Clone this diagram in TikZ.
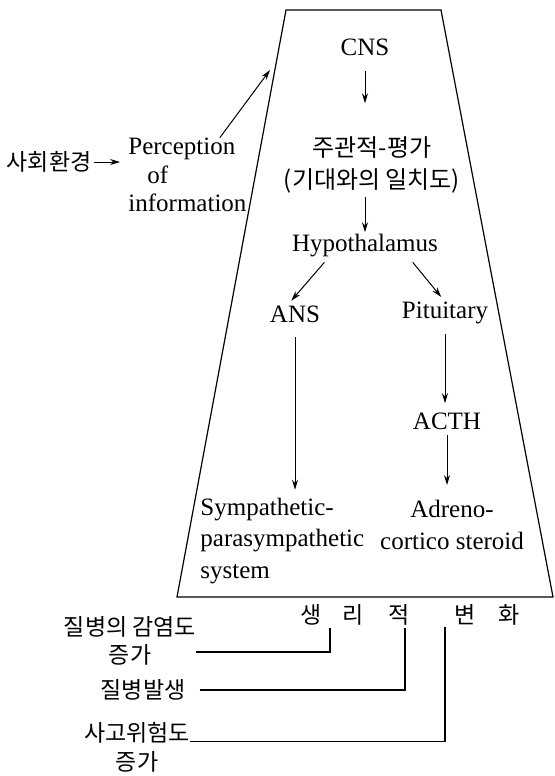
\documentclass[tikz,border=0pt]{standalone}
\usepackage{fontspec}
\setmainfont{Liberation Serif}
\newfontfamily\kr{Noto Sans CJK KR}
\usetikzlibrary{arrows.meta,calc}

\begin{document}
\begin{tikzpicture}[x=0.5pt, y=-0.5pt,
    lbl/.style={inner sep=0pt, font=\fontsize{12.5}{15}\selectfont},
    krl/.style={inner sep=0pt, font=\kr\fontsize{11.5}{14}\selectfont},
    arr/.style={-{Stealth[length=5pt,width=3pt]}, line width=0.5pt},
    link/.style={line width=0.6pt}
  ]
    \useasboundingbox (0,0) rectangle (554,776);

    % body frame
    \coordinate (tl) at (286,10);
    \coordinate (tr) at (441,10);
    \coordinate (br) at (553,597);
    \coordinate (bl) at (177,597);
    \draw[line width=0.6pt] (tl) -- (tr) -- (br) -- (bl) -- cycle;

    \node[lbl] (cns) at (365,47) {CNS};
    \node[krl, align=center, font=\kr\fontsize{12}{16}\selectfont] (evalq) at (372,165) {주관적-평가\\(기대와의 일치도)};
    \node[lbl] (hypo) at (365,246) {Hypothalamus};
    \node[lbl] (ans) at (295,314) {ANS};
    \node[lbl] (pit) at (445,313) {Pituitary};
    \node[lbl] (acth) at (447,421) {ACTH};
    \node[lbl, align=left, anchor=west, font=\fontsize{12.5}{15.75}\selectfont] (symp) at (200,541) {Sympathetic-\\parasympathetic\\system};
    \node[lbl, align=center, font=\fontsize{12.5}{15.75}\selectfont] (adreno) at (452,525) {Adreno-\\cortico steroid};

    \node[lbl, align=left, anchor=west, font=\fontsize{12.5}{14.25}\selectfont] (percep) at (128,175) {Perception\\\hspace*{9.5pt}of\\information};
    \node[krl] (env) at (49,162) {사회환경};
    \coordinate (pin) at (270,70);

    \draw[arr, shorten <=7.5pt, shorten >=16.5pt] (cns.south) -- (cns.south |- evalq.north);
    \draw[arr, shorten <=1.5pt, shorten >=1pt] (hypo.north |- evalq.south) -- (hypo.north);
    \draw[arr, shorten <=3pt, shorten >=3pt] ($(hypo.south)!.5!(hypo.south west)$) -- ($(ans.north)!.3!(ans.north west)$);
    \draw[arr, shorten <=3pt, shorten >=3pt] ($(hypo.south)!.6!(hypo.south east)$) -- (pit.north);
    \draw[arr, shorten <=7pt, shorten >=4pt] (ans.south) -- (ans.south |- symp.north);
    \draw[arr, shorten <=5pt, shorten >=4.5pt] (pit.south) -- (pit.south |- acth.north);
    \draw[arr, shorten <=2.5pt, shorten >=7.5pt] (acth.south) -- (acth.south |- adreno.north);
    \draw[arr] ([xshift=-13.5pt]percep.north east) -- (pin);
    \draw[arr, shorten <=1pt, shorten >=4pt] (env.east) -- (env.east -| percep.west);

    % outcomes
    \node[krl] (change) at (410,615) {생\hspace{10.5pt}리\hspace{12.5pt}적\hspace{22pt}변\hspace{11.5pt}화};
    \node[krl, align=center] (sick) at (130,641) {질병의 감염도\\증가};
    \node[krl] (onset) at (143,690) {질병발생};
    \node[krl, align=center, font=\kr\fontsize{11.5}{14.5}\selectfont] (risk) at (137,747) {사고위험도\\증가};

    \coordinate (t1) at (330,628);
    \coordinate (t2) at (405,628);
    \coordinate (t3) at (445,627);
    \draw[link] ([yshift=-5.5pt]sick.east) -| (t1);
    \draw[link] ([xshift=7pt]onset.east) -| (t2);
    \draw[link] ([yshift=2.75pt]risk.east) -| (t3);
\end{tikzpicture}
\end{document}
